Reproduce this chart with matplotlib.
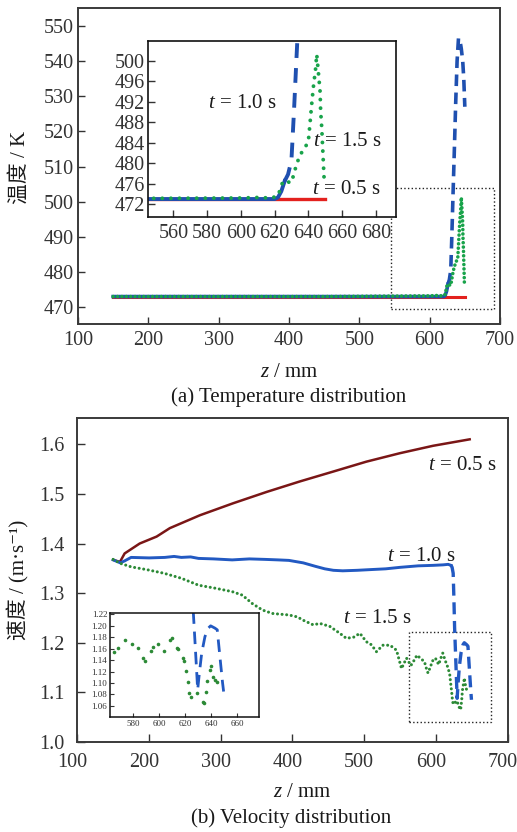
import numpy as np
import matplotlib
matplotlib.use("Agg")
import matplotlib.pyplot as plt
import matplotlib.transforms as mtransforms
from matplotlib.patches import Rectangle

plt.rcParams["font.family"] = ["Liberation Serif", "Noto Sans CJK SC", "DejaVu Serif"]
plt.rcParams["mathtext.fontset"] = "custom"
plt.rcParams["mathtext.rm"] = "Liberation Serif"
plt.rcParams["mathtext.it"] = "Liberation Serif:italic"
plt.rcParams["xtick.direction"] = "in"
plt.rcParams["ytick.direction"] = "in"
plt.rcParams["text.color"] = "#1a1a1a"
plt.rcParams["xtick.color"] = "#333333"
plt.rcParams["ytick.color"] = "#333333"

# ---- (a) temperature along z at three times ----
z_T05 = [150, 650]
T_T05 = [473.0, 473.0]

z_T10 = [150, 300, 450, 600, 620, 622, 624, 626, 628, 630, 631.5, 633, 635, 637, 639,
         641, 643, 645, 647, 648.5, 650]
T_T10 = [473.0, 473.0, 473.0, 473.0, 473.0, 473.3, 474.5, 476.5, 477.8, 480.5, 490.0, 500.5,
         514.0, 528.0, 540.0, 546.5, 546.0, 543.5, 540.0, 535.0, 527.0]

z_T15 = [150, 300, 450, 600, 610, 618, 622, 625, 630, 633, 635, 640, 641, 642, 643, 644.3,
         645, 646, 647, 647.3, 648, 648.5, 649, 649.5]
T_T15 = [473.0, 473.0, 473.0, 473.2, 473.3, 473.2, 473.6, 476.5, 476.2, 479.7, 481.5, 484.1,
         487.7, 491.4, 494.8, 498.3, 501.2, 497.6, 493.9, 490.3, 486.7, 483.1, 479.6, 476.0]

# ---- (b) velocity along z at three times ----
z_V05 = [150, 159.5, 166, 187, 210.6, 229, 271, 317, 364, 410, 456.7, 503, 549.6, 596, 647]
V_V05 = [1.367, 1.363, 1.380, 1.400, 1.414, 1.431, 1.457, 1.481, 1.504, 1.525, 1.545, 1.565,
         1.582, 1.597, 1.610]

z_V10 = [150, 160, 166, 175, 200, 222, 235, 245, 258, 269, 290, 316, 340, 362, 380, 395, 415,
         432, 445, 457, 470, 490, 503, 530, 550, 575, 596, 610, 617, 621, 622.5, 624, 625, 626,
         627, 628.5, 629.5, 630.8, 632.6, 635.1, 637.7, 639.5, 642.8, 644.6, 645.9, 647.4,
         648.7, 649.5]
V_V10 = [1.367, 1.361, 1.365, 1.372, 1.371, 1.372, 1.374, 1.372, 1.373, 1.370, 1.369, 1.367,
         1.369, 1.368, 1.367, 1.366, 1.361, 1.354, 1.349, 1.346, 1.345, 1.346, 1.347, 1.349,
         1.352, 1.355, 1.356, 1.357, 1.358, 1.356, 1.352, 1.340, 1.290, 1.230, 1.190, 1.130,
         1.088, 1.117, 1.152, 1.181, 1.196, 1.200, 1.196, 1.193, 1.163, 1.129, 1.100, 1.085]

z_V15 = [150, 160, 175, 198, 221, 245, 269, 292, 316, 330, 344, 358, 372, 395, 407, 414, 420,
         429, 438, 452, 466, 475, 485, 494, 503, 510, 517, 526, 536, 545, 552, 559, 565, 568.5,
         573.6, 578.8, 583.9, 587.7, 589, 593.4, 595, 599.2, 603.8, 608.2, 609.5, 613.4, 614.6,
         618, 619, 620.3, 621.8, 623.1, 624.1, 629.2, 633.4, 634.4, 635.9, 636.9, 639, 639.5,
         641.5, 642.8, 644.6]
V_V15 = [1.368, 1.360, 1.353, 1.347, 1.340, 1.330, 1.316, 1.310, 1.303, 1.296, 1.279, 1.266,
         1.259, 1.256, 1.252, 1.246, 1.242, 1.236, 1.239, 1.233, 1.219, 1.209, 1.211, 1.219,
         1.202, 1.196, 1.182, 1.195, 1.195, 1.185, 1.148, 1.169, 1.154, 1.162, 1.175, 1.168,
         1.162, 1.143, 1.139, 1.156, 1.163, 1.169, 1.156, 1.175, 1.179, 1.162, 1.159, 1.143,
         1.139, 1.121, 1.102, 1.083, 1.076, 1.083, 1.066, 1.065, 1.085, 1.104, 1.123, 1.129,
         1.111, 1.105, 1.102]

# zoom windows shown in the insets
zoomT_x = (545, 692)
zoomT_y = (469.5, 503.8)
zoomV_x = (562, 677)
zoomV_y = (1.040, 1.222)

red_a, blue_a, green_a = "#e3211e", "#1f50b0", "#18a34a"
red_b, blue_b, green_b = "#7a1616", "#2259c2", "#2c8a36"
frame = "#3a3a3a"

fig = plt.figure(figsize=(5.17, 8.32), dpi=100)


def style_frame(ax, lw, color):
    for s in ax.spines.values():
        s.set_linewidth(lw)
        s.set_edgecolor(color)


# split index where the t=1.0 s curves stop being flat
k_a = z_T10.index(626)
k_b = z_V10.index(621)

# ---------------- (a) ----------------
ax1 = fig.add_axes([0.1509, 0.6106, 0.8162, 0.3798])
ax1.plot(z_T05, T_T05, color=red_a, lw=2.2, zorder=1)
ax1.plot(z_T10[:k_a + 1], T_T10[:k_a + 1], color=blue_a, lw=2.6, zorder=2)
ax1.plot(z_T10[k_a:], T_T10[k_a:], color=blue_a, lw=2.6, ls=(0, (3.2, 1.8)), zorder=2)
ax1.plot(z_T15, T_T15, color=green_a, lw=2.6, ls=(0, (0.01, 1.2)),
         dash_capstyle="round", zorder=3)
ax1.add_patch(Rectangle((zoomT_x[0], zoomT_y[0]), zoomT_x[1] - zoomT_x[0],
                        zoomT_y[1] - zoomT_y[0], fill=False, ls=":", lw=1.0, ec="#222222"))
ax1.set_xlim(100, 700)
ax1.set_ylim(465.2, 555.1)
ax1.set_xticks(np.arange(100, 701, 100))
ax1.set_yticks(np.arange(470, 551, 10))
ax1.tick_params(labelsize=14.5, length=5, width=1.0, pad=5)
ax1.tick_params(axis="y", pad=3)
style_frame(ax1, 1.4, frame)

ins1 = fig.add_axes([0.2863, 0.7392, 0.4797, 0.2115])
ins1.plot(z_T05, T_T05, color=red_a, lw=2.4, zorder=1)
ins1.plot(z_T10[:k_a + 1], T_T10[:k_a + 1], color=blue_a, lw=2.8, zorder=2)
ins1.plot(z_T10[k_a:], T_T10[k_a:], color=blue_a, lw=2.8, ls=(0, (3.8, 2.6)), zorder=2)
ins1.plot(z_T15, T_T15, color=green_a, lw=2.8, ls=(0, (0.01, 2.2)),
         dash_capstyle="round", zorder=3)
ins1.set_xlim(*zoomT_x)
ins1.set_ylim(*zoomT_y)
ins1.set_xticks(np.arange(560, 681, 20))
ins1.set_yticks(np.arange(472, 501, 4))
ins1.tick_params(labelsize=14.5, length=5, width=1.0, pad=5)
ins1.tick_params(axis="y", pad=2)
style_frame(ins1, 1.2, "#111111")

fig.text(0.4023, 0.875, "$t$ = 1.0 s", fontsize=15, va="center")
fig.text(0.6054, 0.8297, "$t$ = 1.5 s", fontsize=15, va="center")
fig.text(0.6035, 0.7728, "$t$ = 0.5 s", fontsize=15, va="center")

fig.text(0.0387, 0.7993, "温度 / K", fontsize=15, rotation=90, ha="center", va="center")
fig.text(0.559, 0.5517, "$z$ / mm", fontsize=15, ha="center", va="center")
fig.text(0.5584, 0.5228, "(a) Temperature distribution", fontsize=15, ha="center", va="center")

# ---------------- (b) ----------------
ax2 = fig.add_axes([0.1495, 0.1082, 0.8325, 0.3894])
ax2.plot(z_V05, V_V05, color=red_b, lw=1.8, zorder=1)
ax2.plot(z_V10[:k_b + 1], V_V10[:k_b + 1], color=blue_b, lw=2.1, zorder=2)
ax2.plot(z_V10[k_b:], V_V10[k_b:], color=blue_b, lw=2.4, ls=(0, (3.6, 2.0)), zorder=2)
ax2.plot(z_V15, V_V15, color=green_b, lw=2.2, ls=(0, (0.01, 1.5)),
         dash_capstyle="round", zorder=3)
ax2.add_patch(Rectangle((zoomV_x[0], zoomV_y[0]), zoomV_x[1] - zoomV_x[0],
                        zoomV_y[1] - zoomV_y[0], fill=False, ls=":", lw=1.0, ec="#222222"))
ax2.set_xlim(100, 700)
ax2.set_ylim(1.0, 1.653)
ax2.set_xticks(np.arange(100, 701, 100))
ax2.set_yticks(np.arange(1.0, 1.61, 0.1))
ax2.set_yticklabels(["%.1f" % v for v in np.arange(1.0, 1.61, 0.1)])
ax2.tick_params(labelsize=14.5, length=6, width=1.0, pad=8)
ax2.tick_params(axis="y", pad=9)
style_frame(ax2, 1.4, frame)
# x labels of this panel sit a little left of their ticks
shift = mtransforms.ScaledTranslation(-5 / 100, 0, fig.dpi_scale_trans)
for lab in ax2.get_xticklabels():
    lab.set_transform(lab.get_transform() + shift)

ax2.text(588.6, 1.558, "$t$ = 0.5 s", fontsize=15, va="center")
ax2.text(531.4, 1.373, "$t$ = 1.0 s", fontsize=15, va="center")
ax2.text(470, 1.249, "$t$ = 1.5 s", fontsize=15, va="center")

ins2 = fig.add_axes([0.2128, 0.1379, 0.2888, 0.1250])
ins2.plot(z_V10, V_V10, color=blue_b, lw=2.0, ls=(0, (4.5, 2.8)), zorder=2)
ins2.plot(z_V15, V_V15, color=green_b, ls="none", marker="o", ms=2.6, mew=0, zorder=3)
ins2.set_xlim(*zoomV_x)
ins2.set_ylim(*zoomV_y)
ins2.set_xticks(np.arange(580, 661, 20))
ins2.set_yticks(np.arange(1.06, 1.221, 0.02))
ins2.set_yticklabels(["%.2f" % v for v in np.arange(1.06, 1.221, 0.02)])
ins2.tick_params(labelsize=6.5, length=3, width=0.8, pad=2)
style_frame(ins2, 1.1, "#111111")

fig.text(0.0348, 0.3029, "速度 / (m·s⁻¹)", fontsize=15, rotation=90,
         ha="center", va="center")
fig.text(0.585, 0.0469, "$z$ / mm", fontsize=15, ha="center", va="center")
fig.text(0.564, 0.0168, "(b) Velocity distribution", fontsize=15, ha="center", va="center")

fig.savefig("out.png", dpi=100)
